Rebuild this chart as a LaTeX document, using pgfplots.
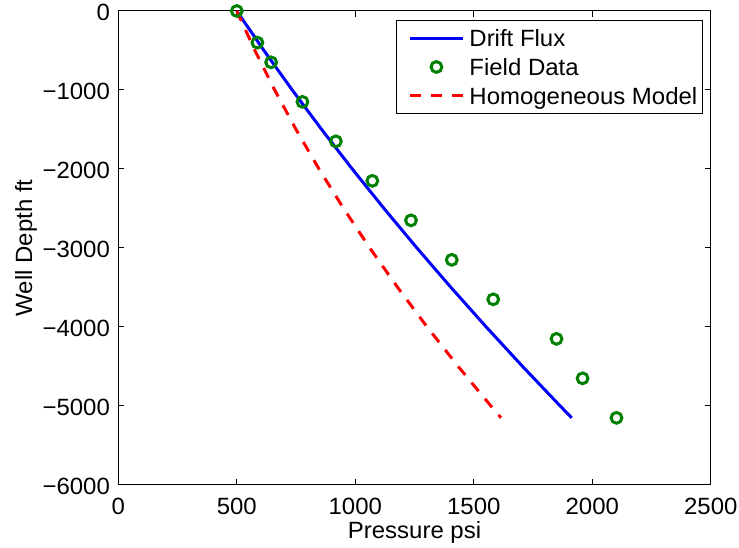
\documentclass[border=0pt]{standalone}
\usepackage{fontspec}
\setmainfont[FakeStretch=1.02]{Liberation Sans}
\usepackage{pgfplots}
\pgfplotsset{compat=1.18}
\definecolor{mblue}{RGB}{0,0,255}
\definecolor{mgreen}{RGB}{0,128,0}
\definecolor{mred}{RGB}{255,0,0}
\newcommand\lbl{\fontsize{11.75pt}{14pt}\selectfont}
\pgfplotsset{
  mylineleg/.style={legend image code/.code={\path (0pt,0pt); \draw[##1] (3.5pt,0pt) -- (30pt,0pt);}},
  mymarkleg/.style={legend image code/.code={\path (0pt,0pt) (30.75pt,0pt); \draw[##1] plot coordinates {(16.75pt,0pt)};}},
}
\begin{document}
\begin{tikzpicture}
\begin{axis}[
  scale only axis, width=296.25pt, height=237pt,
  xmin=0, xmax=2500, ymin=-6000, ymax=0,
  xtick={0,500,1000,1500,2000,2500},
  xticklabels={0,500,1000,1500,2000,2500},
  ytick={-6000,-5000,-4000,-3000,-2000,-1000,0},
  yticklabels={−6000,−5000,−4000,−3000,−2000,−1000,0},
  tick align=inside, tick pos=both, major tick length=2.8pt,
  every tick/.style={black, line width=0.5pt},
  axis line style={line width=0.5pt},
  tick label style={font=\lbl},
  xticklabel style={anchor=base, inner sep=0pt, yshift=-15pt},
  yticklabel style={anchor=east, inner sep=0pt, xshift=-4pt, yshift=-0.65pt},
  xlabel={Pressure psi}, ylabel={Well Depth ft},
  label style={font=\lbl},
  xlabel style={at={(axis description cs:0.5,-0.1124)}, anchor=base, inner sep=0pt},
  ylabel style={at={(axis description cs:-0.1366,0.5)}, anchor=south, inner sep=0pt},
  clip=false,
  legend cell align=left,
  legend style={at={(axis description cs:1,1)}, anchor=north east,
    xshift=-4pt, yshift=-4.5pt, draw=black, line width=0.5pt,
    inner xsep=2.5pt, inner ysep=4.7pt, row sep=5.95pt, column sep=2.25pt,
    font=\lbl, cells={anchor=west},
    nodes={inner sep=0pt, text height=8.4pt, text depth=0pt}},
]
\addplot[mblue, line width=1.5pt, mark=none, mylineleg]
  coordinates {(500,0) (614.5,-500) (733.8,-1000) (858.1,-1500) (987.2,-2000)
    (1121.2,-2500) (1260.1,-3000) (1403.9,-3500) (1552.5,-4000) (1706.0,-4500)
    (1864.6,-5000) (1913,-5150)};
\addlegendentry{Drift Flux}
\addplot[mgreen, only marks, mark=o, mark size=2.7pt, mark options={line width=1.5pt}, mymarkleg]
  coordinates {(500,0) (587,-400) (645,-650) (777,-1150) (918,-1650) (1072,-2150)
    (1235,-2650) (1407,-3150) (1582,-3650) (1849,-4150) (1959,-4650) (2102,-5150)};
\addlegendentry{Field Data}
\addplot[mred, line width=1.5pt, mark=none, dash pattern=on 5.5pt off 5pt, mylineleg]
  coordinates {(500,0) (576.5,-500) (659.8,-1000) (750,-1500) (846.9,-2000)
    (950.7,-2500) (1061.3,-3000) (1178.9,-3500) (1303.1,-4000) (1434.3,-4500)
    (1572.3,-5000) (1615,-5150)};
\addlegendentry{Homogeneous Model}
\end{axis}
\pgfresetboundingbox
\path ([shift={(-59.15pt,-31.5pt)}]current axis.south west) rectangle ([shift={(14.1pt,5.5pt)}]current axis.north east);
\end{tikzpicture}
\end{document}
